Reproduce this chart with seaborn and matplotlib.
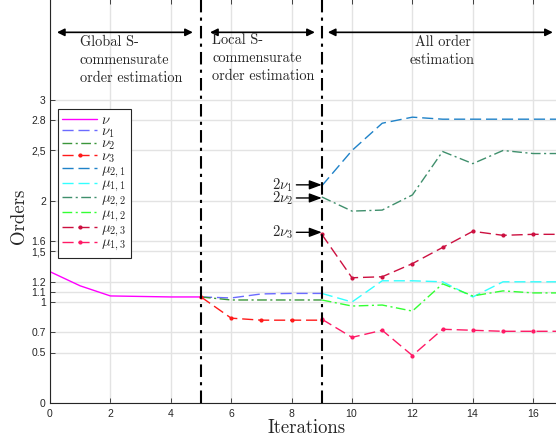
import matplotlib
matplotlib.use("Agg")
import matplotlib.pyplot as plt
import numpy as np
import pandas as pd
import seaborn as sns

sns.set_style("ticks", rc={"axes.grid": True, "grid.color": "#e3e3e3",
                           "grid.linewidth": 1.0, "xtick.direction": "in",
                           "ytick.direction": "in"})
plt.rcParams['font.family'] = ['Liberation Sans', 'DejaVu Sans']
plt.rcParams['mathtext.fontset'] = 'cm'
plt.rcParams['axes.formatter.use_mathtext'] = True

# data
it_a = [0, 1, 2, 3, 4, 5]
nu = [1.30, 1.16, 1.06, 1.055, 1.05, 1.05]

it_b = [5, 6, 7, 8, 9]
nu1 = [1.05, 1.04, 1.08, 1.085, 1.085]
nu2 = [1.05, 1.02, 1.02, 1.02, 1.02]
nu3 = [1.05, 0.84, 0.82, 0.82, 0.82]

it_c = [9, 10, 11, 12, 13, 14, 15, 16, 17]
mu21 = [2.15, 2.50, 2.77, 2.83, 2.81, 2.81, 2.81, 2.81, 2.81]
mu11 = [1.085, 1.00, 1.21, 1.21, 1.20, 1.05, 1.20, 1.20, 1.20]
mu22 = [2.04, 1.90, 1.91, 2.06, 2.49, 2.37, 2.50, 2.47, 2.47]
mu12 = [1.02, 0.96, 0.97, 0.91, 1.18, 1.06, 1.11, 1.09, 1.09]
mu23 = [1.67, 1.24, 1.25, 1.38, 1.54, 1.70, 1.66, 1.67, 1.67]
mu13 = [0.83, 0.65, 0.72, 0.47, 0.73, 0.72, 0.71, 0.71, 0.71]

yticks = [0, 0.5, 0.7, 1, 1.1, 1.2, 1.5, 1.6, 2, 2.5, 2.8, 3]
ytick_labels = ['0', '0.5', '0.7', '1', '1.1', '1.2', '1,5', '1.6', '2', '2,5', '2.8', '3']

dash = (0, (8, 3.5))
dashdot = (0, (7, 2.5, 1.5, 2.5))
series = [
    (r'$\nu$', it_a, nu, '#ff00ff', '-', None),
    (r'$\nu_1$', it_b, nu1, '#6b6bff', dash, None),
    (r'$\nu_2$', it_b, nu2, '#3a963a', dashdot, None),
    (r'$\nu_3$', it_b, nu3, '#ff1a1a', dash, '.'),
    (r'$\mu_{2,1}$', it_c, mu21, '#1f82c8', dash, None),
    (r'$\mu_{1,1}$', it_c, mu11, '#33ffff', dash, None),
    (r'$\mu_{2,2}$', it_c, mu22, '#3f8f6c', dashdot, None),
    (r'$\mu_{1,2}$', it_c, mu12, '#33ff33', dashdot, None),
    (r'$\mu_{2,3}$', it_c, mu23, '#cc1040', dash, '.'),
    (r'$\mu_{1,3}$', it_c, mu13, '#ff1a66', dash, '.'),
]

fig = plt.figure(figsize=(5.56, 4.44), dpi=100)
ax = fig.add_axes([50 / 556, 41 / 444, 513.4 / 556, 404 / 444])

for label, xs, ys, col, ls, mk in series:
    df = pd.DataFrame({'Iterations': xs, 'Orders': ys})
    sns.lineplot(data=df, x='Iterations', y='Orders', ax=ax, color=col,
                 linestyle=ls, marker=mk, markersize=6, markeredgewidth=0,
                 linewidth=1.0, label=label)

ax.axvline(5, color='black', lw=1.5, ls=(0, (6, 2.5, 1.5, 2.5)), zorder=5)
ax.axvline(9, color='black', lw=1.5, ls=(0, (6, 2.5, 1.5, 2.5)), zorder=5)

ax.set_xlim(0, 17)
ax.set_ylim(0, 4)
ax.set_xticks(np.arange(0, 17, 2))
ax.set_yticks(yticks)
ax.set_yticklabels(ytick_labels)
ax.tick_params(labelsize=7.5, colors='#262626', length=3.5, width=0.6,
               top=True, right=True, pad=3)
ax.grid(True, color='#e3e3e3', lw=1.0)
for s in ax.spines.values():
    s.set_linewidth(0.8)
    s.set_color('#262626')

ax.set_xlabel('Iterations', family='cmr10', fontsize=13.5, labelpad=0)
ax.set_ylabel('Orders', family='cmr10', fontsize=13.5)
ax.yaxis.set_label_coords(-0.042, 0.463)

# phase arrows along the top
arr = dict(arrowstyle='<|-|>', color='black', lw=1.2, mutation_scale=11,
           shrinkA=0, shrinkB=0)
ax.annotate('', xy=(4.73, 3.67), xytext=(0.23, 3.67), arrowprops=arr)
ax.annotate('', xy=(8.77, 3.67), xytext=(5.3, 3.67), arrowprops=arr)
ax.annotate('', xy=(16.65, 3.67), xytext=(9.2, 3.67), arrowprops=arr)

tk = dict(family='cmr10', fontsize=10.3, va='center', linespacing=1.4)
ax.text(0.98, 3.39, 'Global S-\ncommensurate\norder estimation', ha='left',
        multialignment='left', **tk)
ax.text(5.38, 3.41, 'Local S-\ncommensurate\norder estimation', ha='left',
        multialignment='left', **tk)
ax.text(13.0, 3.48, 'All order\nestimation', ha='center', **tk)

# arrows to the starting orders at iteration 9
side = dict(arrowstyle='-|>,head_length=0.75,head_width=0.28', color='black',
            lw=1.0, mutation_scale=10, shrinkA=0, shrinkB=0)
for txt, yv in [(r'$2\nu_1$', 2.16), (r'$2\nu_2$', 2.03), (r'$2\nu_3$', 1.69)]:
    ax.annotate(txt, xy=(9.0, yv), xytext=(8.05, yv), fontsize=10.5,
                ha='right', va='center', arrowprops=side)

leg = ax.legend(loc='upper left', bbox_to_anchor=(0.015, 0.728),
                borderaxespad=0, fontsize=10.5, labelspacing=-0.2,
                handlelength=2.4, handletextpad=0.3, borderpad=0.3,
                fancybox=False, framealpha=1, edgecolor='#262626')
leg.get_frame().set_linewidth(0.8)

fig.savefig('out.png', dpi=100)
